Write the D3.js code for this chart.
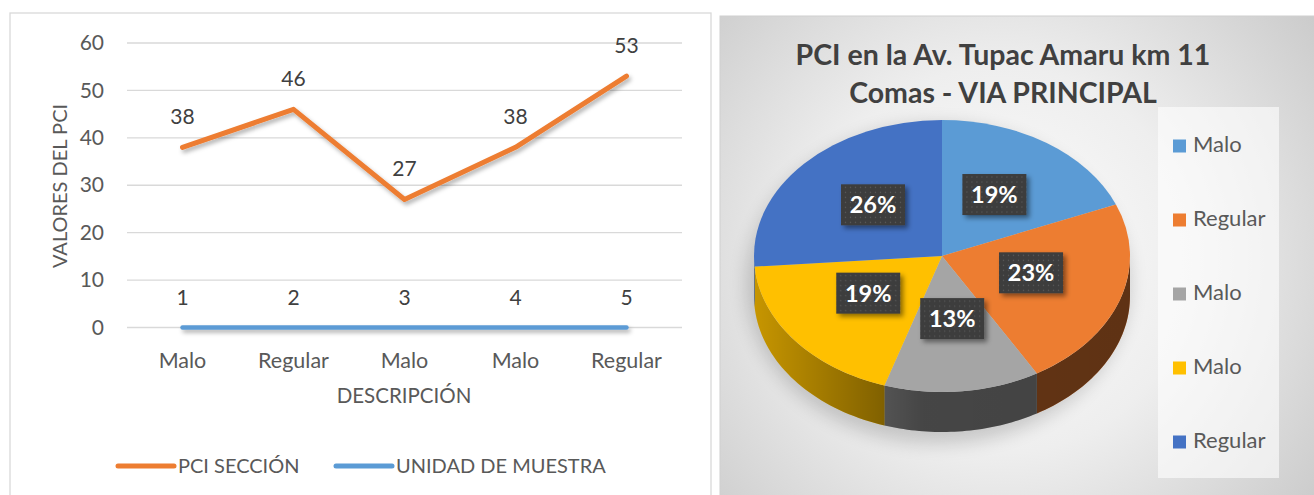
<!DOCTYPE html>
<html>
<head>
<meta charset="utf-8">
<script src="https://cdn.jsdelivr.net/npm/d3@7"></script>
<style>
  body { margin: 0; background: #fff; }
  text { font-family: Lato, "Open Sans", sans-serif; }
</style>
</head>
<body>
<svg id="chart" width="1314" height="495"></svg>
<script>
// Data
const categories = ["Malo", "Regular", "Malo", "Malo", "Regular"];
const pciSeccion = [38, 46, 27, 38, 53];
const unidadMuestra = [0, 0, 0, 0, 0];
const unidadLabels = ["1", "2", "3", "4", "5"];
const yTicks = [0, 10, 20, 30, 40, 50, 60];
const seriesNames = ["PCI SECCIÓN", "UNIDAD DE MUESTRA"];
const pieTitle = ["PCI en la Av. Tupac Amaru km 11", "Comas - VIA PRINCIPAL"];
const pieColors = ["#5B9BD5", "#ED7D31", "#A5A5A5", "#FFC000", "#4472C4"];

var svg = d3.select('#chart');
var defs = svg.append('defs');

// ---------- filters / gradients ----------
// user space units so the flat blue line (zero-height bbox) still renders
let sh = defs.append('filter').attr('id', 'lineShadow')
    .attr('filterUnits', 'userSpaceOnUse')
    .attr('x', 0).attr('y', 0).attr('width', 1314).attr('height', 495);
sh.append('feDropShadow').attr('dx', 2).attr('dy', 3).attr('stdDeviation', 2)
    .attr('flood-color', '#000').attr('flood-opacity', 0.3);

let boxSh = defs.append('filter').attr('id', 'boxShadow')
    .attr('x', '-30%').attr('y', '-30%').attr('width', '170%').attr('height', '170%');
boxSh.append('feDropShadow').attr('dx', 3).attr('dy', 3).attr('stdDeviation', 2.5)
    .attr('flood-color', '#000').attr('flood-opacity', 0.45);

let blur = defs.append('filter').attr('id', 'pieBlur')
    .attr('x', '-30%').attr('y', '-30%').attr('width', '160%').attr('height', '160%');
blur.append('feGaussianBlur').attr('stdDeviation', 9);

let bg = defs.append('radialGradient').attr('id', 'bgGrad')
    .attr('gradientUnits', 'userSpaceOnUse')
    .attr('cx', 1000).attr('cy', 260).attr('r', 430);
bg.append('stop').attr('offset', 0).attr('stop-color', '#fdfdfd');
bg.append('stop').attr('offset', 0.45).attr('stop-color', '#eeeeee');
bg.append('stop').attr('offset', 1).attr('stop-color', '#c6c6c6');

let dots = defs.append('pattern').attr('id', 'dots')
    .attr('width', 5).attr('height', 5).attr('patternUnits', 'userSpaceOnUse');
dots.append('rect').attr('width', 5).attr('height', 5).attr('fill', '#3d3d3d');
dots.append('circle').attr('cx', 2.5).attr('cy', 2.5).attr('r', 0.7).attr('fill', '#5a5a5a');

// ================= LEFT: line chart =================
svg.append('rect')
    .attr('x', 10).attr('y', 13).attr('width', 701).attr('height', 500)
    .style('fill', '#fff').style('stroke', '#d9d9d9').style('stroke-width', 1.3);

let xBand = d3.scaleBand().domain(d3.range(categories.length)).range([127, 682]);
let xPos = i => xBand(i) + xBand.bandwidth() / 2;
let yScale = d3.scaleLinear().domain([0, 60]).range([327.5, 43]);

let lineGroup = svg.append('g');
lineGroup.selectAll('line.grid')
    .data(yTicks)
    .enter()
  .append('line')
    .attr('class', 'grid')
    .attr('x1', 127).attr('x2', 682)
    .attr('y1', d => yScale(d)).attr('y2', d => yScale(d))
    .style('stroke', '#d9d9d9').style('stroke-width', 1.3);

let yAxis = lineGroup.append('g')
    .attr('transform', 'translate(127,0)')
    .call(d3.axisLeft(yScale).tickValues(yTicks).tickSize(0).tickPadding(23));
yAxis.select('.domain').remove();
yAxis.selectAll('text').attr('font-size', 21).attr('fill', '#595959')
    .style('font-family', 'Lato');

let xAxis = lineGroup.append('g')
    .attr('transform', 'translate(0,327.5)')
    .call(d3.axisBottom(xBand).tickFormat(i => categories[i]).tickSize(0));
xAxis.select('.domain').remove();
xAxis.selectAll('text').attr('dy', null).attr('y', 40)
    .attr('font-size', 21.5).attr('fill', '#595959').style('font-family', 'Lato');

// axis titles
lineGroup.append('text')
    .attr('x', 404).attr('y', 403)
    .attr('text-anchor', 'middle')
    .attr('font-size', 20.5).attr('fill', '#595959')
    .text('DESCRIPCIÓN');
lineGroup.append('text')
    .attr('transform', 'translate(67,186) rotate(-90)')
    .attr('text-anchor', 'middle')
    .attr('font-size', 20).attr('fill', '#595959')
    .text('VALORES DEL PCI');

let line = d3.line().x((d, i) => xPos(i)).y(d => yScale(d));

lineGroup.append('path')
    .datum(unidadMuestra)
    .attr('d', line)
    .style('fill', 'none').style('stroke', '#5B9BD5')
    .style('stroke-width', 4.5).style('stroke-linecap', 'round')
    .attr('filter', 'url(#lineShadow)');
lineGroup.append('path')
    .datum(pciSeccion)
    .attr('d', line)
    .style('fill', 'none').style('stroke', '#ED7D31')
    .style('stroke-width', 5).style('stroke-linecap', 'round')
    .style('stroke-linejoin', 'round')
    .attr('filter', 'url(#lineShadow)');

// data labels
lineGroup.selectAll('text.pciLabel')
    .data(pciSeccion)
    .enter()
  .append('text')
    .attr('class', 'pciLabel')
    .attr('x', (d, i) => xPos(i))
    .attr('y', d => yScale(d) - 23)
    .attr('text-anchor', 'middle')
    .attr('font-size', 21).attr('fill', '#404040')
    .text(d => d);
lineGroup.selectAll('text.unitLabel')
    .data(unidadMuestra)
    .enter()
  .append('text')
    .attr('class', 'unitLabel')
    .attr('x', (d, i) => xPos(i))
    .attr('y', d => yScale(d) - 23)
    .attr('text-anchor', 'middle')
    .attr('font-size', 21).attr('fill', '#404040')
    .text((d, i) => unidadLabels[i]);

// legend
let legendL = [
    {name: seriesNames[0], color: '#ED7D31', x: 118},
    {name: seriesNames[1], color: '#5B9BD5', x: 336}
];
let lg = lineGroup.selectAll('g.leg').data(legendL).enter().append('g').attr('class', 'leg');
lg.append('line')
    .attr('x1', d => d.x).attr('x2', d => d.x + 56)
    .attr('y1', 466).attr('y2', 466)
    .style('stroke', d => d.color).style('stroke-width', 5).style('stroke-linecap', 'round');
lg.append('text')
    .attr('x', d => d.x + 60).attr('y', 473)
    .attr('font-size', 20).attr('fill', '#595959')
    .text(d => d.name);

// ================= RIGHT: 3D pie =================
let pieGroup = svg.append('g');
pieGroup.append('rect')
    .attr('x', 720).attr('y', 16).attr('width', 600).attr('height', 490)
    .style('fill', 'url(#bgGrad)').style('stroke', '#d0d0d0').style('stroke-width', 1);

pieGroup.selectAll('text.title')
    .data(pieTitle)
    .enter()
  .append('text')
    .attr('class', 'title')
    .attr('x', 1003)
    .attr('y', (d, i) => 65 + i * 37.5)
    .attr('text-anchor', 'middle')
    .attr('font-size', 28.5).attr('font-weight', 'bold').attr('fill', '#404040')
    .text(d => d);

// legend box
pieGroup.append('rect')
    .attr('x', 1158).attr('y', 107).attr('width', 121).attr('height', 371)
    .style('fill', '#fff').style('opacity', 0.6);
let pl = pieGroup.selectAll('g.pleg').data(categories).enter().append('g').attr('class', 'pleg');
pl.append('rect')
    .attr('x', 1173).attr('y', (d, i) => 139.5 + i * 74)
    .attr('width', 13).attr('height', 13)
    .style('fill', (d, i) => pieColors[i]);
pl.append('text')
    .attr('x', 1193).attr('y', (d, i) => 152 + i * 74)
    .attr('font-size', 22).attr('fill', '#595959')
    .text(d => d);

// pie geometry
let cx = 942, cy = 256, rx = 188, ry = 136, depth = 40;
let pieMaker = d3.pie().sort(null).value(d => d);
let slices = pieMaker(pciSeccion);
let total = d3.sum(pciSeccion);

// soft shadow under the pie
pieGroup.append('ellipse')
    .attr('cx', cx - 4).attr('cy', cy + depth / 2 + 8)
    .attr('rx', rx + 4).attr('ry', ry + depth / 2 + 4)
    .style('fill', '#000').style('opacity', 0.17)
    .attr('filter', 'url(#pieBlur)');

// side walls (front half only)
function ellPoint(a, dy) {
    return [cx + rx * Math.sin(a), cy - ry * Math.cos(a) + dy];
}
let sideLine = d3.line();
function sidePath(a0, a1) {
    let s = Math.max(a0, Math.PI / 2), e = Math.min(a1, 3 * Math.PI / 2);
    if (e <= s) return null;
    let top = d3.range(0, 41).map(k => ellPoint(s + (e - s) * k / 40, 0));
    let bot = top.slice().reverse().map(p => [p[0], p[1] + depth]);
    return sideLine(top.concat(bot)) + 'Z';
}
let sideShade = defs.append('linearGradient').attr('id', 'sideShade')
    .attr('gradientUnits', 'userSpaceOnUse')
    .attr('x1', cx - rx).attr('x2', cx + rx).attr('y1', 0).attr('y2', 0);
sideShade.append('stop').attr('offset', 0).attr('stop-color', '#000').attr('stop-opacity', 0.22);
sideShade.append('stop').attr('offset', 0.45).attr('stop-color', '#000').attr('stop-opacity', 0.58);
sideShade.append('stop').attr('offset', 1).attr('stop-color', '#000').attr('stop-opacity', 0.6);

let sides = slices.filter(d => sidePath(d.startAngle, d.endAngle));
pieGroup.selectAll('path.side')
    .data(sides)
    .enter()
  .append('path')
    .attr('class', 'side')
    .attr('d', d => sidePath(d.startAngle, d.endAngle))
    .style('fill', d => pieColors[d.index]);
pieGroup.selectAll('path.sideDark')
    .data(sides)
    .enter()
  .append('path')
    .attr('class', 'sideDark')
    .attr('d', d => sidePath(d.startAngle, d.endAngle))
    .style('fill', 'url(#sideShade)');

// top face
let topArc = d3.arc().innerRadius(0).outerRadius(rx);
let topFace = pieGroup.append('g')
    .attr('transform', 'translate(' + cx + ',' + cy + ') scale(1,' + (ry / rx) + ')');
topFace.selectAll('path.top')
    .data(slices)
    .enter()
  .append('path')
    .attr('class', 'top')
    .attr('d', topArc)
    .style('fill', d => pieColors[d.index]);

// percentage labels
let labels = pieGroup.selectAll('g.plabel')
    .data(slices)
    .enter()
  .append('g')
    .attr('class', 'plabel')
    .attr('transform', d => {
        let c = topArc.centroid(d);
        return 'translate(' + (cx + c[0]) + ',' + (cy + c[1] * ry / rx - 5) + ')';
    });
labels.append('rect')
    .attr('x', -32).attr('y', -20.5).attr('width', 64).attr('height', 41)
    .style('fill', 'url(#dots)')
    .attr('filter', 'url(#boxShadow)');
labels.append('text')
    .attr('y', 8.5)
    .attr('text-anchor', 'middle')
    .attr('font-size', 23.5).attr('font-weight', 'bold').attr('fill', '#fff')
    .text(d => Math.round(100 * d.value / total) + '%');
</script>
</body>
</html>
